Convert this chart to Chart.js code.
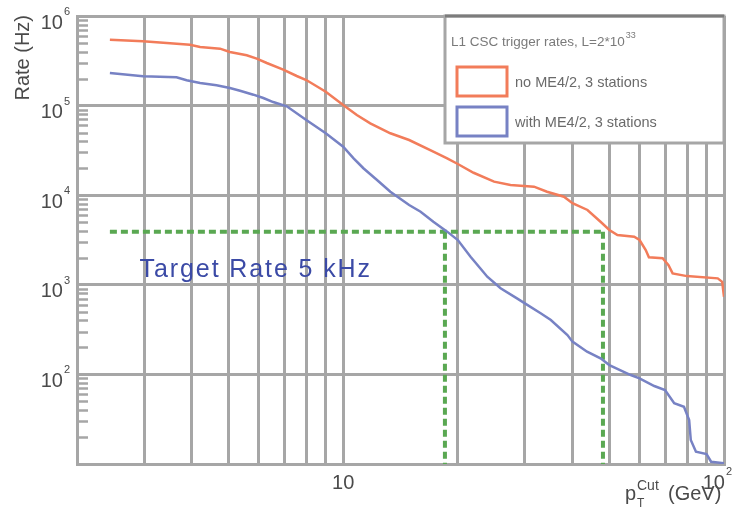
<!DOCTYPE html>
<html>
<head>
<meta charset="utf-8">
<script src="https://cdn.jsdelivr.net/npm/chart.js@4.4.1/dist/chart.umd.min.js"></script>
<style>
html, body { margin: 0; padding: 0; background: #fff; }
canvas { display: block; }
</style>
</head>
<body>
<canvas id="chartRate" width="733" height="511"></canvas>
<script>
// pT cut (GeV) and L1 rate (Hz)
let noME42_pt = [2.44, 2.98, 3.44, 3.96, 4.21, 4.75, 5.04, 5.58, 5.93, 6.30, 6.96, 7.55, 8.0, 9.0, 10.0,
    10.86, 11.78, 13.3, 14.9, 17.25, 18.75, 20.0, 22.0, 24.9, 27.5, 31.7, 34.3, 38.0, 40.0, 43.8,
    47.4, 50.0, 52.5, 58.1, 60.0, 62.3, 63.5, 69.0, 71.5, 73.3, 79.9, 96.3, 98.9, 100];
let noME42_rate = [5.44e5, 5.22e5, 5.0e5, 4.78e5, 4.51e5, 4.32e5, 3.96e5, 3.64e5, 3.34e5, 2.99e5, 2.52e5, 2.14e5, 1.93e5, 1.43e5, 1.015e5,
    7.86e4, 6.34e4, 4.91e4, 4.13e4, 3.06e4, 2.58e4, 2.23e4, 1.78e4, 1.416e4, 1.30e4, 1.245e4, 1.094e4, 9.62e3, 8.13e3, 6.84e3,
    5.06e3, 4.09e3, 3.6e3, 3.44e3, 3.16e3, 2.44e3, 2.03e3, 1.98e3, 1.66e3, 1.34e3, 1.25e3, 1.18e3, 1.08e3, 736];

let withME42_pt = [2.44, 2.98, 3.65, 3.88, 4.21, 4.65, 5.04, 5.36, 5.81, 6.17, 6.55, 7.11, 8.0, 9.0, 10.0,
    10.65, 11.3, 12.27, 13.3, 14.9, 15.97, 17.25, 18.75, 20.0, 21.6, 22.9, 23.9, 25.9, 28.6, 30.0,
    33.0, 35.1, 38.8, 40.0, 43.7, 47.4, 50.0, 56.9, 60.0, 65.6, 70.0, 74.0, 78.5, 81.0, 81.8,
    84.4, 90.0, 92.5, 100];
let withME42_rate = [2.31e5, 2.12e5, 2.07e5, 1.92e5, 1.79e5, 1.685e5, 1.572e5, 1.467e5, 1.324e5, 1.216e5, 1.096e5, 9.82e4, 6.9e4, 4.91e4, 3.48e4,
    2.58e4, 2.0e4, 1.48e4, 1.094e4, 7.78e3, 6.55e3, 5.06e3, 3.92e3, 3.16e3, 2.06e3, 1.53e3, 1.23e3, 914, 706, 621,
    481, 405, 275, 232, 179, 151, 127, 98.4, 90.4, 74.2, 67, 47.6, 43.6, 31, 18.5,
    13.7, 12.9, 10.6, 10.2];

// target rate marker lines
let targetRate = 3900;   //Hz
let targetFrom = 2.44;   //GeV
let cutWith = 18.5;      //GeV
let cutNo = 48.1;        //GeV

let seriesLabels = ['no ME4/2, 3 stations', 'with ME4/2, 3 stations'];
let legendTitle = 'L1 CSC trigger rates, L=2*10';
let legendTitleExp = '33';
let targetText = 'Target Rate 5 kHz';

// axes
let xGrid = [2, 3, 4, 5, 6, 7, 8, 9, 10, 20, 30, 40, 50, 60, 70, 80, 90, 100];
let xLabelValues = [10, 100];
let xLabelExp = ['', '2'];
let yDecades = [10, 100, 1e3, 1e4, 1e5, 1e6];
let yLabelValues = [1e2, 1e3, 1e4, 1e5, 1e6];
let yLabelExp = ['2', '3', '4', '5', '6'];

let gridColor = '#a6a6a6';
let labelColor = '#4a4a4a';
let orange = '#f27c5a';
let blue = '#7782c4';
let green = '#5aa852';

function toPoints(xs, ys) {
    let p = [];
    for (let i = 0; i < xs.length; i++) p.push({x: xs[i], y: ys[i]});
    return p;
}

// "10" with a small raised exponent
function drawPower(ctx, exp, xc, base, align) {
    ctx.font = '20px "Liberation Sans", Arial, sans-serif';
    let wb = ctx.measureText('10').width;
    ctx.font = '11px "Liberation Sans", Arial, sans-serif';
    let we = exp ? ctx.measureText(exp).width + 1 : 0;
    let x0 = align == 'right' ? xc - wb - we : xc - (wb + we) / 2;
    let maxRight = ctx.canvas.width - 1;
    if (x0 + wb + we > maxRight) x0 = maxRight - wb - we;
    ctx.textAlign = 'left';
    ctx.textBaseline = 'alphabetic';
    ctx.font = '20px "Liberation Sans", Arial, sans-serif';
    ctx.fillText('10', x0, base);
    if (exp) {
        ctx.font = '11px "Liberation Sans", Arial, sans-serif';
        ctx.fillText(exp, x0 + wb + 1, base - 13.5);
    }
}

let decor = {
    id: 'decor',
    beforeDatasetsDraw(chart) {
        let ctx = chart.ctx, a = chart.chartArea, ys = chart.scales.y;
        ctx.save();
        // short inner ticks on the rate axis
        ctx.strokeStyle = gridColor;
        ctx.lineWidth = 2.5;
        for (let d = 0; d < yDecades.length - 1; d++) {
            for (let m = 2; m <= 9; m++) {
                let py = Math.round(ys.getPixelForValue(yDecades[d] * m)) + 0.5;
                ctx.beginPath();
                ctx.moveTo(a.left, py);
                ctx.lineTo(a.left + 11, py);
                ctx.stroke();
            }
        }
        ctx.restore();
    },
    afterDatasetsDraw(chart) {
        let ctx = chart.ctx, a = chart.chartArea;
        let xs = chart.scales.x, ys = chart.scales.y;
        ctx.save();

        // tick labels
        ctx.fillStyle = labelColor;
        for (let i = 0; i < yLabelValues.length; i++) {
            let py = ys.getPixelForValue(yLabelValues[i]);
            drawPower(ctx, yLabelExp[i], a.left - 7, py + 12.5, 'right');
        }
        for (let i = 0; i < xLabelValues.length; i++) {
            let px = xs.getPixelForValue(xLabelValues[i]);
            drawPower(ctx, xLabelExp[i], px, a.bottom + 24.5, 'center');
        }

        // axis titles
        ctx.font = '20px "Liberation Sans", Arial, sans-serif';
        ctx.save();
        ctx.translate(29, a.top - 1);
        ctx.rotate(-Math.PI / 2);
        ctx.textAlign = 'right';
        ctx.fillText('Rate (Hz)', 0, 0);
        ctx.restore();

        ctx.textAlign = 'left';
        let tx = 625, tb = a.bottom + 36;
        ctx.font = '20px "Liberation Sans", Arial, sans-serif';
        ctx.fillText('p', tx, tb);
        ctx.font = '12px "Liberation Sans", Arial, sans-serif';
        ctx.fillText('T', tx + 12, tb + 7);
        ctx.font = '14px "Liberation Sans", Arial, sans-serif';
        ctx.fillText('Cut', tx + 12, tb - 10);
        ctx.font = '20px "Liberation Sans", Arial, sans-serif';
        ctx.fillText('(GeV)', tx + 43, tb);

        // target text
        ctx.fillStyle = '#3b4aa6';
        ctx.font = '25px "Liberation Sans", Arial, sans-serif';
        ctx.letterSpacing = '1.9px';
        ctx.fillText(targetText, xs.getPixelForValue(2.92), ys.getPixelForValue(1220));
        ctx.letterSpacing = '0px';

        // legend box
        let bw = 279, bh = 127;
        let bx = a.right - bw, by = a.top;
        ctx.fillStyle = '#fff';
        ctx.fillRect(bx, by, bw, bh);
        ctx.strokeStyle = gridColor;
        ctx.lineWidth = 3;
        ctx.strokeRect(bx, by, bw, bh);
        ctx.strokeStyle = '#7c7c7c';
        ctx.beginPath();
        ctx.moveTo(bx, by);
        ctx.lineTo(bx + bw, by);
        ctx.stroke();

        ctx.fillStyle = '#7a7a7a';
        ctx.font = '13.5px "Liberation Sans", Arial, sans-serif';
        ctx.fillText(legendTitle, bx + 6, by + 30);
        let wt = ctx.measureText(legendTitle).width;
        ctx.font = '9px "Liberation Sans", Arial, sans-serif';
        ctx.fillText(legendTitleExp, bx + 7 + wt, by + 22);

        let cols = [orange, blue];
        let rows = [by + 51, by + 91];
        for (let i = 0; i < 2; i++) {
            ctx.strokeStyle = cols[i];
            ctx.lineWidth = 3;
            ctx.strokeRect(bx + 12, rows[i], 50, 29);
            ctx.fillStyle = '#6a6a6a';
            ctx.font = '14.5px "Liberation Sans", Arial, sans-serif';
            ctx.fillText(seriesLabels[i], bx + 70, rows[i] + 20);
        }
        ctx.restore();
    }
};

let ctx_rate = document.getElementById('chartRate').getContext('2d');
let chart_rate = new Chart(ctx_rate, {
    type: 'line',
    data: {
        datasets: [
        {
            label: seriesLabels[0],
            data: toPoints(noME42_pt, noME42_rate),
            borderColor: orange,
            borderWidth: 2.5,
            order: 1,
        },
        {
            label: seriesLabels[1],
            data: toPoints(withME42_pt, withME42_rate),
            borderColor: blue,
            borderWidth: 2.5,
            order: 2,
        },
        {
            label: 'target',
            data: [{x: targetFrom, y: targetRate}, {x: cutNo, y: targetRate}],
            borderColor: green,
            borderWidth: 4,
            borderDash: [7, 4],
            order: 3,
        },
        {
            label: 'cut with',
            data: [{x: cutWith, y: targetRate}, {x: cutWith, y: 10}],
            borderColor: green,
            borderWidth: 4,
            borderDash: [7, 4],
            order: 3,
        },
        {
            label: 'cut no',
            data: [{x: cutNo, y: targetRate}, {x: cutNo, y: 10}],
            borderColor: green,
            borderWidth: 4,
            borderDash: [7, 4],
            order: 3,
        }],
    },
    options: {
        responsive: false,
        animation: false,
        layout: {padding: {left: 0, top: 16, right: 9, bottom: 0}},
        elements: {
            point: {radius: 0},
            line: {tension: 0, backgroundColor: 'transparent', fill: false},
        },
        plugins: {
            legend: {display: false},
            tooltip: {enabled: false},
        },
        scales: {
            x: {
                type: 'logarithmic',
                min: 2,
                max: 100,
                afterBuildTicks: s => { s.ticks = xGrid.map(v => ({value: v})); },
                afterFit: s => { s.height = 47; },
                ticks: {display: false, autoSkip: false},
                grid: {color: gridColor, lineWidth: 3, drawTicks: false},
                border: {display: true, color: gridColor, width: 3},
            },
            y: {
                type: 'logarithmic',
                min: 10,
                max: 1e6,
                afterBuildTicks: s => { s.ticks = yDecades.map(v => ({value: v})); },
                afterFit: s => { s.width = 77; },
                ticks: {display: false, autoSkip: false},
                grid: {color: gridColor, lineWidth: 3, drawTicks: false},
                border: {display: true, color: gridColor, width: 3},
            },
        },
    },
    plugins: [decor],
});
</script>
</body>
</html>
